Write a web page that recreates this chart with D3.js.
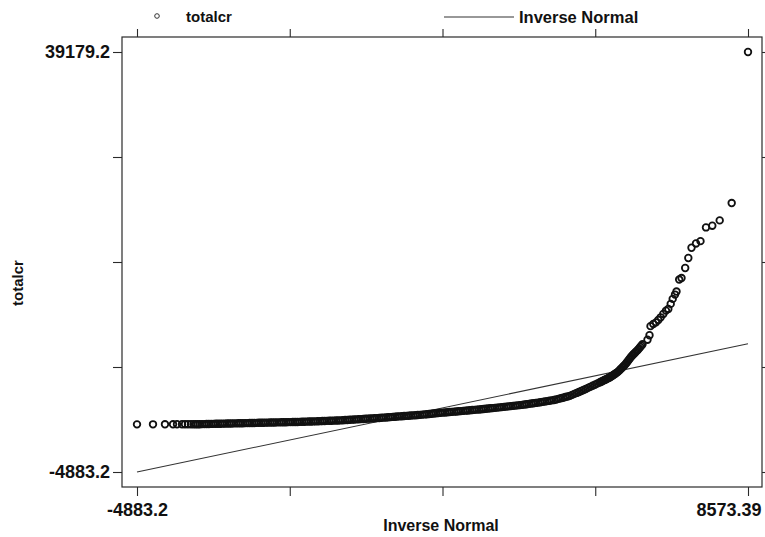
<!DOCTYPE html>
<html><head><meta charset="utf-8">
<script src="https://cdn.jsdelivr.net/npm/d3@7"></script>
<style>
body{margin:0;background:#fff}
text{font-family:"Liberation Sans",Arial,sans-serif;font-weight:bold;fill:#111}
</style>
</head><body><svg id="c" width="765" height="537"></svg>
<script>
// Quantile-normal plot of totalcr: x = inverse normal quantile, y = sorted totalcr
const invNormal = [
-4883.2,-4531,-4267,-4090,-4002,-3892,-3826,-3760,-3694,-3639,-3590,-3545,
-3500,-3450,-3400,-3350,-3300,-3250,-3200,-3150,-3100,-3050,-3000,-2950,-2900,-2850,-2800,-2750,-2700,-2650,-2600,-2550,-2500,-2450,-2400,-2350,-2300,-2250,-2200,-2150,-2100,-2050,-2000,-1950,-1900,-1850,-1800,-1750,-1700,-1650,-1600,-1550,-1500,-1450,-1400,-1350,-1300,
-1250,-1200,-1150,-1100,-1050,-1000,-950,-900,-850,-800,-750,-700,-650,-600,-550,-500,-450,-400,-350,-300,-250,-200,-150,-100,-50,0,
50,100,150,200,250,300,350,400,450,500,550,600,650,700,750,800,850,900,950,1000,1050,1100,1150,1200,1250,1300,1350,1400,1450,1500,1550,1600,1650,1700,1750,1800,1850,1900,1950,2000,2050,2100,2150,2200,2250,2300,2350,2400,2450,2500,2550,2600,2650,2700,2750,2800,2850,2900,2950,3000,3050,3100,3150,3200,3250,3300,3350,3400,3450,3500,3550,3600,3650,3700,3750,3800,3850,3900,3950,4000,4050,4100,4150,4200,4250,4300,4350,4400,4450,4500,4550,4600,4650,4700,4750,4800,4850,4900,4950,5000,5050,5100,5150,5200,5250,5300,
5325,5350,5375,5400,5425,5450,5475,5500,5525,5550,5575,5600,5625,5650,5675,5700,5725,5750,5775,5800,5825,5850,5875,5900,5925,5950,5975,6000,6025,6050,6075,6100,6125,6150,6175,6200,6225,6250,
6360,6404,6426,6488,6547,6598,6651,6708,6767,6818,6871,6915,6966,6999,7058,7109,7190,7259,7329,7428,7527,7648,7787,7950,8214,8573.39
];
const totalcr = [
115,118,120,122,124,125,126,127,128,130,131,132,
133,139,144,150,155,161,166,172,177,183,188,194,199,205,210,216,221,227,232,238,243,249,254,260,265,271,276,282,287,293,298,304,309,315,320,326,331,337,342,348,353,359,364,370,375,
382,391,399,407,416,424,433,441,450,460,469,479,488,498,507,517,526,536,550,565,579,593,608,622,636,650,
666,681,697,712,728,743,758,774,789,806,824,842,860,878,896,914,932,950,968,986,1004,1022,1039,1057,1075,1093,1111,1135,1159,1183,1207,1230,1254,1278,1302,1325,1345,1366,1386,1406,1427,1447,1467,1487,1508,1530,1551,1573,1595,1616,1638,1659,1681,1704,1728,1751,1775,1799,1823,1847,1870,1894,1920,1946,1973,1999,2025,2051,2078,2104,2130,2163,2197,2230,2263,2297,2330,2364,2397,2432,2471,2511,2551,2591,2631,2671,2723,2787,2851,2914,2978,3041,3105,3206,3310,3413,3516,3619,3723,3829,3940,4052,4163,4275,4386,4498,
4555,4615,4675,4735,4794,4854,4914,4974,5033,5107,5189,5271,5352,5434,5516,5597,5700,5820,5939,6059,6178,6298,6431,6585,6739,6892,7046,7199,7345,7464,7584,7703,7823,7942,8085,8228,8372,8515,
8998,9471,10418,10649,10817,11070,11343,11700,12048,12226,12752,13278,13730,14046,15307,15465,16517,17569,18641,19093,19335,20776,20955,21512,23331,39179.2
];
// reference line (inverse normal fit)
const refLineX = [-4883.2, 8573.39];
const refLineY = [-4883.2, 8573.39];
// axes
const xTicks = [-4883.2, -1519.05, 1845.1, 5209.24, 8573.39];
const xTickLabels = ["-4883.2", "", "", "", "8573.39"];
const yTicks = [-4883.2, 6132.4, 17148, 28163.6, 39179.2];
const yTickLabels = ["-4883.2", "", "", "", "39179.2"];
const seriesNames = ["totalcr", "Inverse Normal"];

const svg = d3.select("#c");
const x = d3.scaleLinear().domain([-4883.2, 8573.39]).range([137, 748]);
const y = d3.scaleLinear().domain([-4883.2, 39179.2]).range([472, 52]);
const L = 122, R = 762, T = 37, B = 487;
const ink = "#111";

// frame
svg.append("rect").attr("x", L).attr("y", T).attr("width", R - L).attr("height", B - T)
  .attr("fill", "none").attr("stroke", "#2a2a2a").attr("stroke-width", 1.2);

function styleAxis(g) {
  g.select(".domain").remove();
  g.selectAll(".tick line").attr("stroke", "#2a2a2a").attr("stroke-width", 1.1);
}
// bottom
const gb = svg.append("g").attr("transform", `translate(0,${B})`)
  .call(d3.axisBottom(x).tickValues(xTicks).tickSize(9).tickFormat((d, i) => xTickLabels[i]));
styleAxis(gb);
gb.selectAll(".tick text").attr("font-size", 18).attr("fill", ink).attr("dy", 0).attr("y", 29)
  .style("font-family", '"Liberation Sans",Arial,sans-serif').style("font-weight", "bold");
gb.selectAll(".tick").filter((d, i) => i === 4).select("text").attr("text-anchor", "end").attr("x", 13);
// top
const gt = svg.append("g").attr("transform", `translate(0,${T})`)
  .call(d3.axisTop(x).tickValues(xTicks).tickSize(8).tickFormat(""));
styleAxis(gt);
// left
const gl = svg.append("g").attr("transform", `translate(${L},0)`)
  .call(d3.axisLeft(y).tickValues(yTicks).tickSize(9).tickFormat((d, i) => yTickLabels[i]));
styleAxis(gl);
gl.selectAll(".tick text").attr("font-size", 18).attr("fill", ink).attr("x", -12)
  .style("font-family", '"Liberation Sans",Arial,sans-serif').style("font-weight", "bold");
// right
const gr = svg.append("g").attr("transform", `translate(${R},0)`)
  .call(d3.axisRight(y).tickValues(yTicks).tickSize(9).tickFormat(""));
styleAxis(gr);

// reference line
svg.append("path")
  .datum(refLineX.map((v, i) => [v, refLineY[i]]))
  .attr("d", d3.line().x(d => x(d[0])).y(d => y(d[1])))
  .attr("fill", "none").attr("stroke", "#333").attr("stroke-width", 1.1);

// points
svg.append("g").selectAll("circle")
  .data(invNormal.map((v, i) => [v, totalcr[i]]))
  .join("circle")
  .attr("cx", d => x(d[0])).attr("cy", d => y(d[1]))
  .attr("r", 3.3).attr("fill", "none").attr("stroke", ink).attr("stroke-width", 1.8);

// legend
svg.append("circle").attr("cx", 157).attr("cy", 16).attr("r", 2.3)
  .attr("fill", "none").attr("stroke", "#333").attr("stroke-width", 1);
svg.append("text").attr("x", 186).attr("y", 22).attr("font-size", 15).text(seriesNames[0]);
svg.append("line").attr("x1", 444).attr("x2", 514).attr("y1", 17).attr("y2", 17)
  .attr("stroke", "#333").attr("stroke-width", 1.1);
svg.append("text").attr("x", 519).attr("y", 23).attr("font-size", 16.5).text(seriesNames[1]);

// axis titles
svg.append("text").attr("x", 441).attr("y", 531).attr("text-anchor", "middle").attr("font-size", 16).text("Inverse Normal");
svg.append("text").attr("transform", "translate(23,283) rotate(-90)").attr("text-anchor", "middle").attr("font-size", 15).text("totalcr");
</script>
</body></html>
